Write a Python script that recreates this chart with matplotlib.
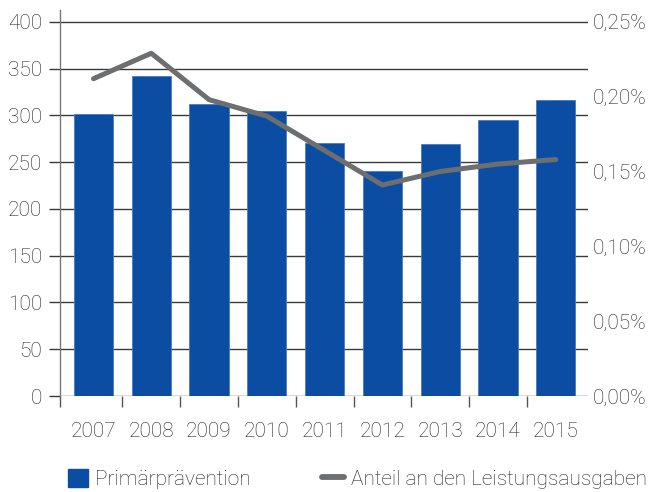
import matplotlib
matplotlib.use("Agg")
import matplotlib.pyplot as plt
from matplotlib.patches import Patch
from matplotlib.lines import Line2D

# Ausgaben Primärprävention und Anteil an den Leistungsausgaben
years = ["2007", "2008", "2009", "2010", "2011", "2012", "2013", "2014", "2015"]
praevention = [302, 342, 312, 305, 271, 241, 269, 295, 316]
anteil = [0.212, 0.229, 0.198, 0.187, 0.164, 0.141, 0.150, 0.155, 0.158]

left_ticks = [0, 50, 100, 150, 200, 250, 300, 350, 400]
right_ticks = [0.0, 0.05, 0.10, 0.15, 0.20, 0.25]

BLUE = "#0a4da2"
GREY = "#6d6e70"
TEXT = "#222222"

plt.rcParams["font.family"] = ["Roboto", "DejaVu Sans"]
plt.rcParams["font.weight"] = "light"
plt.rcParams["font.size"] = 15
plt.rcParams["text.color"] = TEXT

fig = plt.figure(figsize=(6.52, 4.92), dpi=100)
ax = fig.add_axes([0.092, 0.195, 0.81, 0.785])

x = list(range(len(years)))
ax.bar(x, praevention, width=0.68, color=BLUE, edgecolor="#4a7cc0", linewidth=0.6)

ax.set_xlim(-0.58, 8.56)
ax.set_ylim(0, 412.8)
ax.set_axisbelow(True)

# horizontal grid plus outward ticks on the left
ax.set_yticks(left_ticks)
ax.yaxis.grid(True, color="#3a3a3a", linewidth=1.0)
ax.tick_params(axis="y", length=8, width=1.0, color="#3a3a3a", pad=5,
               labelcolor=TEXT, labelsize=15)

# year labels centred, separator ticks between the bars
ax.set_xticks(x)
ax.set_xticklabels(years)
ax.set_xticks([-0.58] + [i + 0.5 for i in range(8)], minor=True)
ax.tick_params(axis="x", which="major", length=0, pad=19, labelcolor=TEXT, labelsize=15)
ax.tick_params(axis="x", which="minor", length=8, width=1.0, color="#555555")

for side in ["top", "right", "bottom"]:
    ax.spines[side].set_visible(False)
ax.spines["left"].set_color("#777777")
ax.spines["left"].set_linewidth(1.0)

# share of total benefit expenditure on the right axis
ax2 = ax.twinx()
ax2.plot(x, anteil, color=GREY, linewidth=3.6, solid_capstyle="round",
         solid_joinstyle="round")
ax2.set_ylim(0, 0.25 * 412.8 / 400)
ax2.set_yticks(right_ticks)
ax2.set_yticklabels([f"{v:.2f}%".replace(".", ",") for v in right_ticks])
ax2.tick_params(axis="y", length=0, pad=3, labelcolor=TEXT, labelsize=15)
for side in ["top", "right", "bottom", "left"]:
    ax2.spines[side].set_visible(False)

# legend in two parts along the bottom edge
fig.legend(handles=[Patch(facecolor=BLUE, edgecolor=BLUE)],
           labels=["Primärprävention"], loc="center left",
           bbox_to_anchor=(0.104, 0.026), frameon=False,
           handlelength=0.95, handleheight=0.95, handletextpad=0.35,
           borderaxespad=0, borderpad=0, fontsize=15)
fig.legend(handles=[Line2D([0], [0], color=GREY, linewidth=4.2,
                           solid_capstyle="round")],
           labels=["Anteil an den Leistungsausgaben"], loc="center left",
           bbox_to_anchor=(0.494, 0.026), frameon=False,
           handlelength=1.05, handletextpad=0.35,
           borderaxespad=0, borderpad=0, fontsize=15)

fig.savefig("out.png", dpi=100)
